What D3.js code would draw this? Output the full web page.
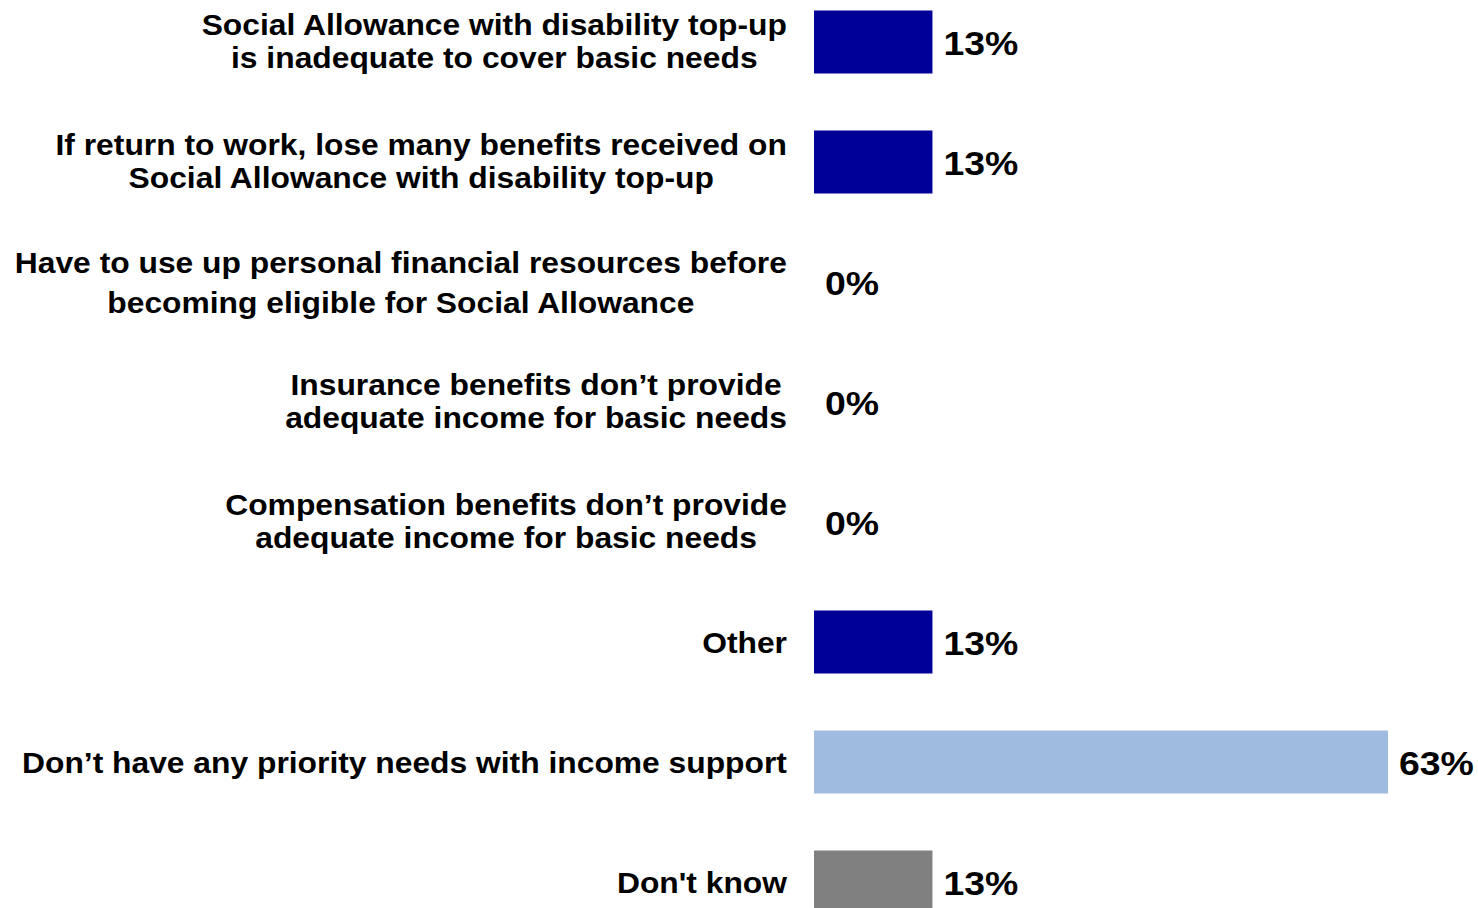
<!DOCTYPE html>
<html>
<head>
<meta charset="utf-8">
<script src="https://cdn.jsdelivr.net/npm/d3@7"></script>
<style>
  html, body { margin: 0; padding: 0; background: #ffffff; }
  svg { display: block; }
  text { font-family: "Liberation Sans", Arial, sans-serif; font-weight: bold; fill: #000; }
</style>
</head>
<body>
<svg id="chart" width="1478" height="908"></svg>
<script>
// ---- data ----
const categories = [
  ["Social Allowance with disability top-up", "is inadequate to cover basic needs"],
  ["If return to work, lose many benefits received on", "Social Allowance with disability top-up"],
  ["Have to use up personal financial resources before", "becoming eligible for Social Allowance"],
  ["Insurance benefits don\u2019t provide", "adequate income for basic needs"],
  ["Compensation benefits don\u2019t provide", "adequate income for basic needs"],
  ["Other"],
  ["Don\u2019t have any priority needs with income support"],
  ["Don't know"]
];
const values = [13, 13, 0, 0, 0, 13, 63, 13];
const valueLabels = ["13%", "13%", "0%", "0%", "0%", "13%", "63%", "13%"];
const barGroups = ["issue", "issue", "issue", "issue", "issue", "issue", "none", "dk"];

// ---- layout ----
const svg = d3.select("#chart");
const labelFont = 30, labelSx = 1.06;
const lineGapFor = i => (i === 2 ? 40 : 33);   // third label has looser line spacing in the reference
const valueFont = 34, valueSx = 1.1;

const ids = categories.map((d, i) => i);
const y = d3.scaleBand().domain(ids).range([-18, 942]).paddingInner(0.475).paddingOuter(0.2375);
const x = d3.scaleLinear().domain([0, 63]).range([814, 1388]);
const color = d3.scaleOrdinal().domain(["issue", "none", "dk"]).range(["#000099", "#A0BBE0", "#808080"]);

// bars
svg.append("g").selectAll("rect").data(ids).join("rect")
  .attr("x", x(0))
  .attr("y", i => y(i))
  .attr("width", i => x(values[i]) - x(0))
  .attr("height", y.bandwidth())
  .attr("fill", i => color(barGroups[i]));

// value labels
svg.append("g").selectAll("text").data(ids).join("text")
  .attr("transform", i => `translate(${x(values[i]) + 11},${y(i) + y.bandwidth() / 2 + 12.5}) scale(${valueSx},1)`)
  .attr("font-size", valueFont)
  .text(i => valueLabels[i]);

// category labels: lines centred on each other, block right-aligned at 787
const labelRight = 787;
const lg = svg.append("g");
ids.forEach(i => {
  const lines = categories[i];
  const cy = y(i) + y.bandwidth() / 2;
  const g = lg.append("g");
  const texts = lines.map(ln => g.append("text")
    .attr("font-size", labelFont)
    .attr("text-anchor", "middle")
    .text(ln));
  const maxW = d3.max(texts, t => t.node().getComputedTextLength()) * labelSx;
  const cx = labelRight - maxW / 2;
  const shift = lines.length > 1 && i !== 2 ? -1.5 : 0;
  const gap = lineGapFor(i);
  texts.forEach((t, k) => {
    const by = cy + 10.5 + shift + (k - (lines.length - 1) / 2) * gap;
    t.attr("transform", `translate(${cx},${by}) scale(${labelSx},1)`);
  });
});
</script>
</body>
</html>
